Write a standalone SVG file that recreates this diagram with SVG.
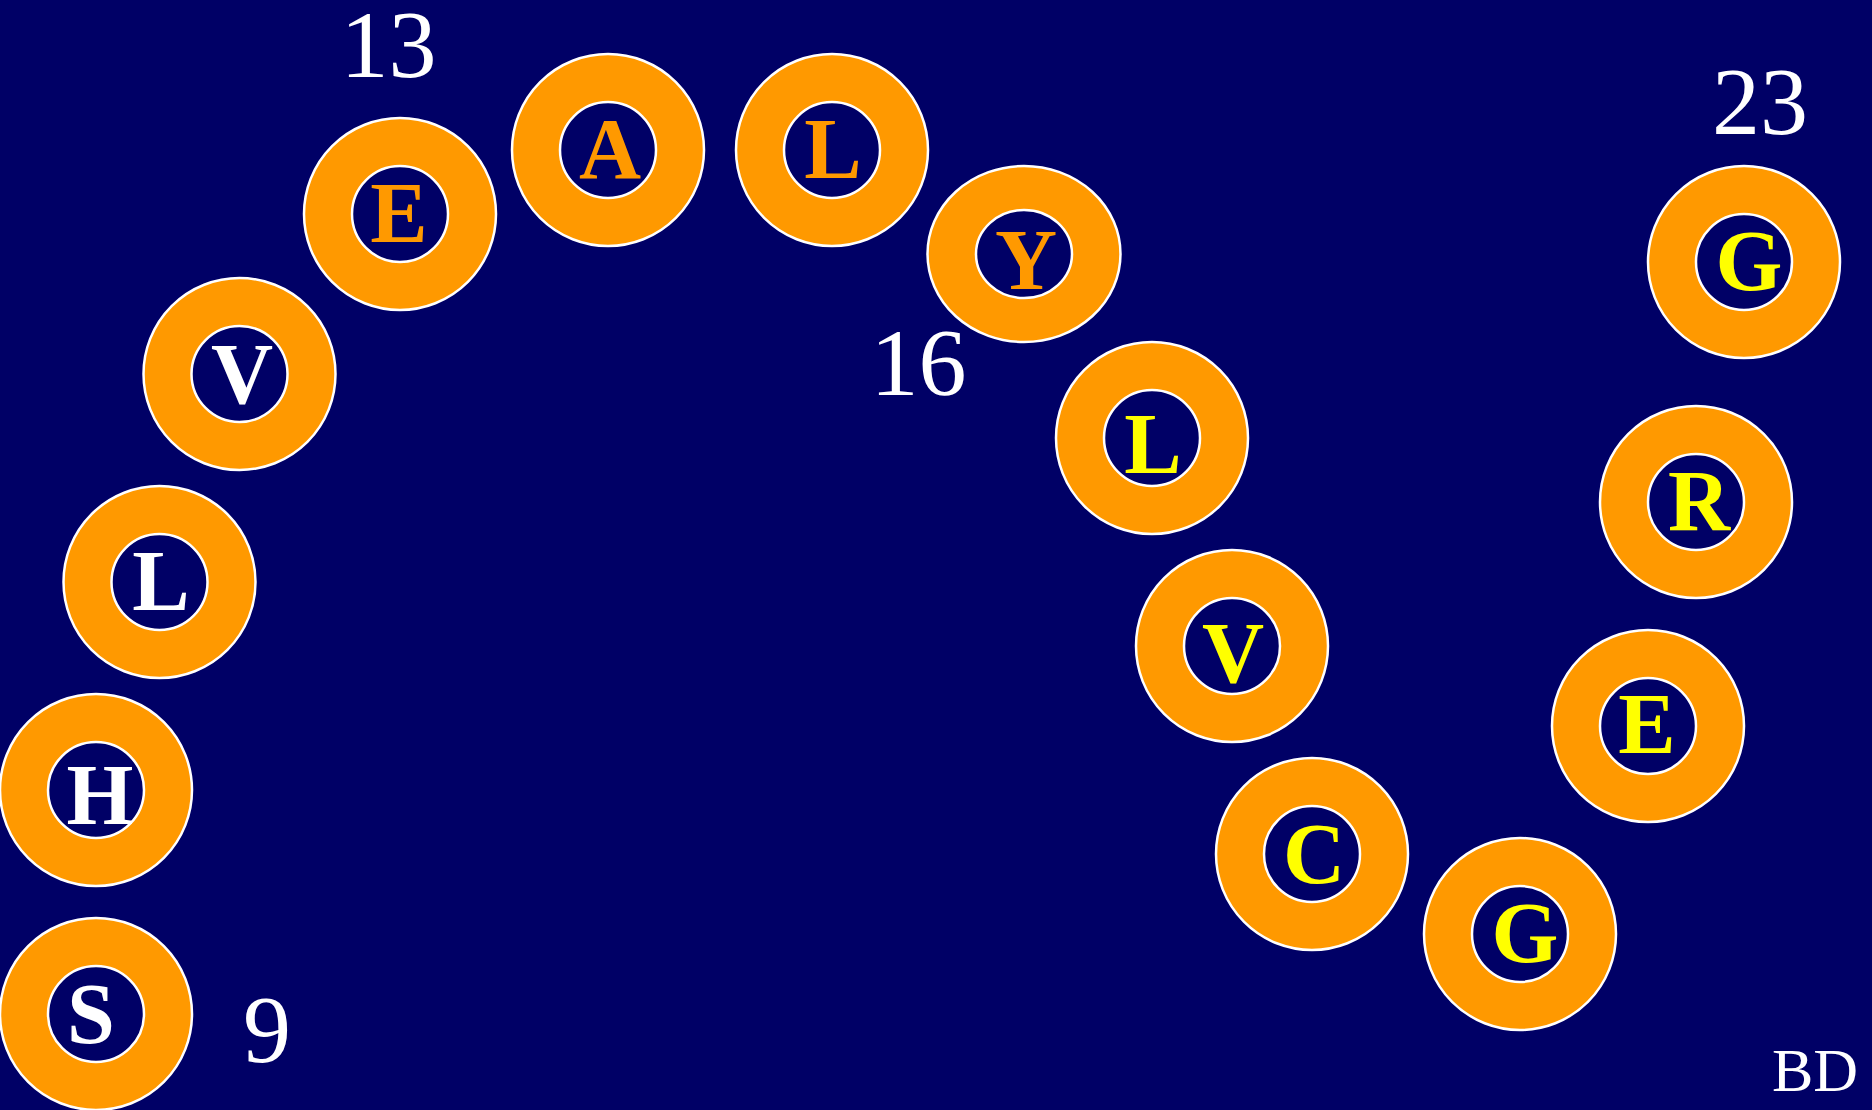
<svg xmlns="http://www.w3.org/2000/svg" width="1872" height="1110" viewBox="0 0 1872 1110">
<style>
.ring{fill:#FF9900;stroke:#FFFFFF;stroke-width:2.5}
.hole{fill:#000066;stroke:#FFFFFF;stroke-width:2.5}
.lt{font-family:"Liberation Serif","Times New Roman",serif;font-weight:bold;font-size:86px;text-anchor:middle}
.num{font-family:"Liberation Serif","Times New Roman",serif;font-size:96px;fill:#FFFFFF;text-anchor:middle}
.w{fill:#FFFFFF}.o{fill:#FF9900}.y{fill:#FFFF00}
</style>
<rect x="0" y="0" width="1872" height="1110" fill="#000066"/>
<g id="connectors"/>
<g id="n1"><circle class="ring" cx="96" cy="1014" r="96"/><circle class="hole" cx="96" cy="1014" r="48"/><text class="lt w" x="91" y="1043">S</text></g>
<g id="n2"><circle class="ring" cx="96" cy="790" r="96"/><circle class="hole" cx="96" cy="790" r="48"/><text class="lt w" x="100" y="824">H</text></g>
<g id="n3"><circle class="ring" cx="159.5" cy="582" r="96"/><circle class="hole" cx="159.5" cy="582" r="48"/><text class="lt w" x="161" y="610">L</text></g>
<g id="n4"><circle class="ring" cx="239.5" cy="374" r="96"/><circle class="hole" cx="239.5" cy="374" r="48"/><text class="lt w" x="242" y="403">V</text></g>
<g id="n5"><circle class="ring" cx="400" cy="214" r="96"/><circle class="hole" cx="400" cy="214" r="48"/><text class="lt o" x="399" y="242">E</text></g>
<g id="n6"><circle class="ring" cx="608" cy="150" r="96"/><circle class="hole" cx="608" cy="150" r="48"/><text class="lt o" x="610" y="178">A</text></g>
<g id="n7"><circle class="ring" cx="832" cy="150" r="96"/><circle class="hole" cx="832" cy="150" r="48"/><text class="lt o" x="833" y="178">L</text></g>
<g id="n8"><ellipse class="ring" cx="1024" cy="254" rx="96.5" ry="88"/><ellipse class="hole" cx="1024" cy="254" rx="48" ry="44"/><text class="lt o" x="1026" y="289">Y</text></g>
<g id="n9"><circle class="ring" cx="1152" cy="438" r="96"/><circle class="hole" cx="1152" cy="438" r="48"/><text class="lt y" x="1153" y="473">L</text></g>
<g id="n10"><circle class="ring" cx="1232" cy="646" r="96"/><circle class="hole" cx="1232" cy="646" r="48"/><text class="lt y" x="1233" y="682">V</text></g>
<g id="n11"><circle class="ring" cx="1312" cy="854" r="96"/><circle class="hole" cx="1312" cy="854" r="48"/><text class="lt y" x="1314" y="883">C</text></g>
<g id="n12"><circle class="ring" cx="1520" cy="934" r="96"/><circle class="hole" cx="1520" cy="934" r="48"/><text class="lt y" x="1525" y="962">G</text></g>
<g id="n13"><circle class="ring" cx="1648" cy="726" r="96"/><circle class="hole" cx="1648" cy="726" r="48"/><text class="lt y" x="1647" y="753">E</text></g>
<g id="n14"><circle class="ring" cx="1696" cy="502" r="96"/><circle class="hole" cx="1696" cy="502" r="48"/><text class="lt y" x="1699" y="530">R</text></g>
<g id="n15"><circle class="ring" cx="1744" cy="262" r="96"/><circle class="hole" cx="1744" cy="262" r="48"/><text class="lt y" x="1749" y="290">G</text></g>
<g id="labels">
<text class="num" x="388.5" y="77">13</text>
<text class="num" x="918.5" y="395">16</text>
<text class="num" x="1760" y="134">23</text>
<text class="num" x="267" y="1062">9</text>
<text class="num" x="1815" y="1091" style="font-size:62px">BD</text>
</g>
</svg>
